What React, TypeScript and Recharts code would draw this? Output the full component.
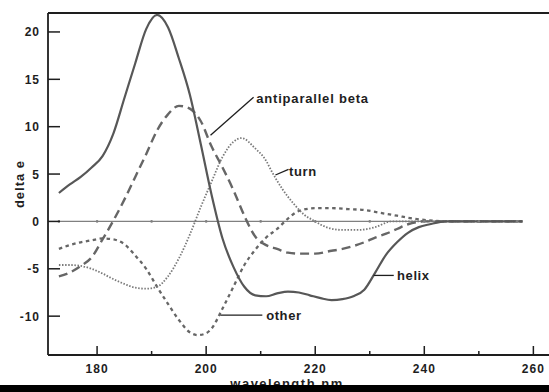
import React from "react";
import {
  LineChart,
  Line,
  XAxis,
  YAxis,
  ReferenceLine,
  ReferenceDot,
} from "recharts";

// CD reference spectra (wavelength nm -> delta e)
const helixNm = [173, 175, 177, 179, 181, 183, 185, 187, 189, 191, 193, 195, 197, 199, 201, 203, 205, 207, 209, 211, 213, 215, 217, 219, 221, 223, 225, 227, 229, 231, 233, 235, 237, 239, 241, 244, 250, 258];
const helixDe = [3.0, 3.9, 4.7, 5.7, 6.9, 9.3, 13.0, 16.7, 20.3, 21.8, 20.5, 17.2, 13.4, 8.2, 2.8, -1.8, -4.8, -6.9, -7.8, -7.9, -7.6, -7.4, -7.5, -7.8, -8.1, -8.3, -8.2, -7.9, -7.2, -5.4, -3.5, -2.2, -1.2, -0.6, -0.3, 0, 0, 0];

const betaNm = [173, 175, 177, 179, 181, 183, 185, 187, 189, 191, 193, 195, 197, 199, 201, 203, 205, 207, 209, 211, 213, 215, 217, 220, 223, 225, 227, 229, 231, 233, 235, 237, 240, 250, 258];
const betaDe = [-5.8, -5.4, -4.7, -3.8, -1.9, 0.1, 2.3, 4.7, 7.1, 9.6, 11.3, 12.2, 11.9, 10.6, 7.9, 5.7, 3.3, 0.6, -1.6, -2.5, -2.9, -3.3, -3.4, -3.4, -3.1, -2.9, -2.6, -2.2, -1.7, -1.3, -0.8, -0.3, 0, 0, 0];

const turnNm = [173, 175, 177, 179, 181, 183, 185, 187, 189, 191, 193, 195, 197, 199, 201, 203, 205, 206.5, 209, 211, 212, 214, 216, 218, 220, 222, 225, 228, 231, 234, 245, 258];
const turnDe = [-4.6, -4.6, -4.7, -5.0, -5.5, -6.1, -6.6, -7.0, -7.1, -6.9, -5.8, -3.9, -1.4, 1.5, 4.2, 6.8, 8.4, 8.8, 7.7, 6.4, 5.3, 3.4, 1.9, 0.7, 0.0, -0.6, -0.9, -0.9, -0.6, 0, 0, 0];

const otherNm = [173, 175, 177, 179, 181, 183, 185, 187, 189, 191, 193, 195, 197, 198.5, 200, 201, 203, 205, 207, 209, 211, 213, 215, 217, 220, 223, 226, 229, 232, 235, 238, 241, 245, 258];
const otherDe = [-2.9, -2.5, -2.2, -2.0, -1.8, -1.9, -2.4, -3.6, -5.0, -6.9, -8.7, -10.4, -11.7, -12.0, -11.8, -11.3, -9.2, -6.9, -4.6, -3.0, -1.7, -0.8, 0.3, 1.1, 1.4, 1.4, 1.3, 1.2, 0.9, 0.6, 0.3, 0.1, 0, 0];

const zeroNm = [173, 180, 190, 200, 210, 220, 230, 240, 250, 257];
const zeroDe = [0, 0, 0, 0, 0, 0, 0, 0, 0, 0];

const xTicks = [180, 190, 200, 210, 220, 230, 240, 250, 260];
const yTicks = [-10, -5, 0, 5, 10, 15, 20];
const xDomain = [171, 268];
const yDomain = [-14.1, 22];

const rows = (nm: number[], de: number[]) => nm.map((x, i) => ({ nm: x, de: de[i] }));

const font = "'Liberation Sans', Arial, sans-serif";
const ink = "#1e1e1e";

const XTick = (props: any) => {
  const { x, y, payload } = props;
  const major = payload.value % 20 === 0;
  return (
    <g>
      <line x1={x} x2={x} y1={y} y2={y - (major ? 9 : 4)} stroke={ink} strokeWidth={1.5} />
      {major && (
        <text x={x} y={y + 18} textAnchor="middle" fontSize={12} fontWeight="bold" letterSpacing={1} fill={ink} fontFamily={font}>
          {payload.value}
        </text>
      )}
    </g>
  );
};

const YTick = (props: any) => {
  const { x, y, payload } = props;
  return (
    <g>
      <line x1={x} x2={x + 12} y1={y} y2={y} stroke={ink} strokeWidth={1.5} />
      <text x={x - 8} y={y + 4.5} textAnchor="end" fontSize={12} fontWeight="bold" letterSpacing={1} fill={ink} fontFamily={font}>
        {payload.value}
      </text>
    </g>
  );
};

const labelStyle = { fontSize: 13, fontWeight: "bold", fill: ink, fontFamily: font, letterSpacing: 0.6 };

export default function App() {
  return (
    <div style={{ position: "absolute", left: 0, top: 0, width: 549, height: 392, overflow: "hidden", background: "#fff" }}>
      <LineChart width={577} height={392} margin={{ top: 13, right: 0, bottom: 0, left: 0 }}>
        <XAxis
          dataKey="nm"
          type="number"
          domain={xDomain}
          ticks={xTicks}
          allowDataOverflow
          height={37}
          tickSize={0}
          tickMargin={0}
          tickLine={false}
          tick={<XTick />}
          axisLine={{ stroke: ink, strokeWidth: 1.8 }}
        />
        <YAxis
          type="number"
          domain={yDomain}
          ticks={yTicks}
          allowDataOverflow
          width={48}
          tickSize={0}
          tickMargin={0}
          tickLine={false}
          tick={<YTick />}
          axisLine={{ stroke: ink, strokeWidth: 1.8 }}
        />
        <ReferenceLine y={yDomain[1]} stroke={ink} strokeWidth={1.8} />

        <Line data={rows(zeroNm, zeroDe)} dataKey="de" type="linear" stroke="#808080" strokeWidth={1.4} dot={{ r: 1.3, fill: "#808080", stroke: "none" }} isAnimationActive={false} />
        <Line data={rows(otherNm, otherDe)} dataKey="de" type="monotone" stroke="#666" strokeWidth={2.3} strokeDasharray="3.5 3.5" dot={false} isAnimationActive={false} />
        <Line data={rows(turnNm, turnDe)} dataKey="de" type="monotone" stroke="#7a7a7a" strokeWidth={1.8} strokeDasharray="1.5 1.6" dot={false} isAnimationActive={false} />
        <Line data={rows(betaNm, betaDe)} dataKey="de" type="monotone" stroke="#666" strokeWidth={2.4} strokeDasharray="9 5" dot={false} isAnimationActive={false} />
        <Line data={rows(helixNm, helixDe)} dataKey="de" type="monotone" stroke="#575757" strokeWidth={2.2} dot={false} isAnimationActive={false} />

        {/* callouts */}
        <ReferenceLine segment={[{ x: 200.8, y: 9.1 }, { x: 208.7, y: 13.1 }]} stroke={ink} strokeWidth={1.3} />
        <ReferenceDot x={209.2} y={13.0} r={0} stroke="none" label={{ value: "antiparallel beta", position: "right", offset: 0, style: { ...labelStyle, letterSpacing: 0.8 } }} />
        <ReferenceLine segment={[{ x: 212.7, y: 4.9 }, { x: 215.1, y: 5.5 }]} stroke={ink} strokeWidth={1.3} />
        <ReferenceDot x={215.2} y={5.3} r={0} stroke="none" label={{ value: "turn", position: "right", offset: 0, style: labelStyle }} />
        <ReferenceLine segment={[{ x: 230.7, y: -5.7 }, { x: 234.4, y: -5.7 }]} stroke={ink} strokeWidth={1.3} />
        <ReferenceDot x={235.0} y={-5.7} r={0} stroke="none" label={{ value: "helix", position: "right", offset: 0, style: labelStyle }} />
        <ReferenceLine segment={[{ x: 202.6, y: -9.9 }, { x: 210.3, y: -9.9 }]} stroke={ink} strokeWidth={1.3} />
        <ReferenceDot x={211.0} y={-9.9} r={0} stroke="none" label={{ value: "other", position: "right", offset: 0, style: labelStyle }} />
      </LineChart>

      <div
        style={{
          position: "absolute",
          left: 18.5,
          top: 184,
          transform: "translate(-50%, -50%) rotate(-90deg)",
          whiteSpace: "nowrap",
          fontFamily: font,
          fontWeight: "bold",
          fontSize: 13,
          letterSpacing: 1,
          color: ink,
        }}
      >
        delta e
      </div>
      <div
        style={{
          position: "absolute",
          left: 287,
          top: 376,
          transform: "translateX(-50%)",
          whiteSpace: "nowrap",
          fontFamily: font,
          fontWeight: "bold",
          fontSize: 13,
          letterSpacing: 1.5,
          lineHeight: "15px",
          color: ink,
        }}
      >
        wavelength nm
      </div>
      <div style={{ position: "absolute", left: 0, top: 385, width: 549, height: 7, background: "#000" }} />
    </div>
  );
}
